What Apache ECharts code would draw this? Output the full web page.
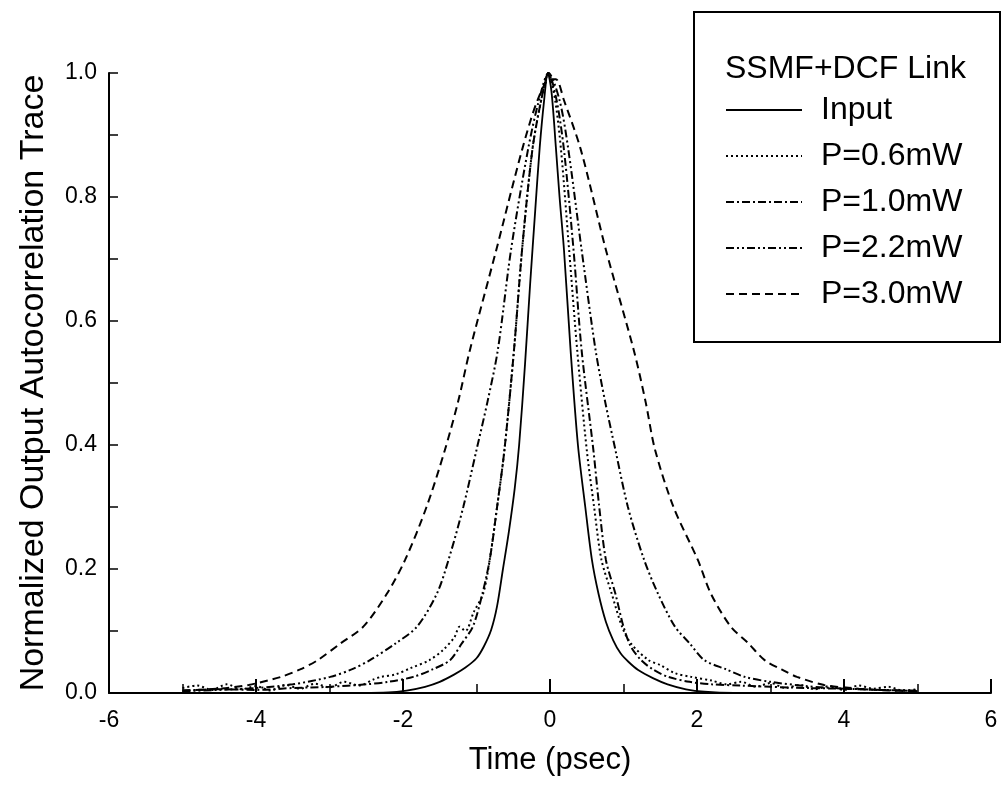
<!DOCTYPE html>
<html><head><meta charset="utf-8">
<script src="https://cdn.jsdelivr.net/npm/echarts@6/dist/echarts.min.js"></script>
<style>html,body{margin:0;padding:0;background:#fff}#c{width:1003px;height:785px}</style>
</head><body><div id="c"></div>
<script>
// ---- data (x in psec, y normalized) ----
const seriesNames = ['Input', 'P=0.6mW', 'P=1.0mW', 'P=2.2mW', 'P=3.0mW'];
const legendTitle = 'SSMF+DCF Link';
const xTitle = 'Time (psec)';
const yTitle = 'Normalized Output Autocorrelation Trace';

const inputTrace = [[-5,0],[-3,0],[-2.2,0.001],[-1.95,0.004],[-1.7,0.01],[-1.5,0.018],[-1.3,0.03],[-1.15,0.041],[-1.0,0.056],[-0.9,0.075],[-0.8,0.102],[-0.72,0.14],[-0.64,0.2],[-0.56,0.26],[-0.48,0.33],[-0.42,0.4],[-0.34,0.53],[-0.27,0.66],[-0.2,0.78],[-0.14,0.88],[-0.08,0.956],[-0.03,1.0],[0.02,0.97],[0.08,0.88],[0.13,0.8],[0.19,0.715],[0.28,0.553],[0.38,0.4],[0.48,0.3],[0.57,0.215],[0.66,0.16],[0.76,0.115],[0.86,0.085],[0.96,0.064],[1.07,0.05],[1.2,0.037],[1.4,0.024],[1.6,0.014],[1.85,0.006],[2.1,0.002],[2.5,0],[5,0]];

const p06Trace = [[-5.0,0.008],[-4.8,0.012],[-4.6,0.005],[-4.4,0.014],[-4.2,0.006],[-4.0,0.011],[-3.8,0.004],[-3.6,0.013],[-3.4,0.007],[-3.2,0.015],[-3.0,0.009],[-2.8,0.018],[-2.6,0.012],[-2.4,0.022],[-2.3,0.026],[-2.1,0.03],[-1.9,0.04],[-1.64,0.053],[-1.45,0.07],[-1.3,0.09],[-1.23,0.107],[-1.15,0.1],[-1.04,0.13],[-0.91,0.16],[-0.82,0.215],[-0.72,0.3],[-0.62,0.392],[-0.49,0.553],[-0.38,0.715],[-0.24,0.876],[-0.12,0.956],[-0.02,1.0],[0.07,0.956],[0.15,0.876],[0.26,0.715],[0.37,0.553],[0.5,0.392],[0.6,0.3],[0.7,0.215],[0.84,0.16],[0.98,0.107],[1.1,0.08],[1.34,0.053],[1.5,0.045],[1.7,0.032],[1.92,0.026],[2.2,0.02],[2.4,0.014],[2.6,0.018],[2.8,0.01],[3.0,0.016],[3.2,0.008],[3.4,0.013],[3.6,0.006],[3.8,0.011],[4.0,0.005],[4.2,0.012],[4.4,0.007],[4.6,0.01],[4.8,0.004],[5.0,0.006]];

const p10Trace = [[-5,0.004],[-4.5,0.006],[-4,0.005],[-3.5,0.008],[-3,0.01],[-2.5,0.014],[-2.2,0.018],[-1.86,0.026],[-1.6,0.038],[-1.36,0.053],[-1.2,0.08],[-1.05,0.107],[-0.92,0.16],[-0.82,0.215],[-0.72,0.3],[-0.62,0.392],[-0.49,0.553],[-0.38,0.715],[-0.24,0.876],[-0.12,0.956],[-0.02,1.0],[0.09,0.956],[0.19,0.876],[0.32,0.715],[0.43,0.553],[0.59,0.392],[0.67,0.3],[0.76,0.215],[0.89,0.16],[1.0,0.107],[1.1,0.075],[1.24,0.053],[1.4,0.038],[1.61,0.026],[1.9,0.018],[2.2,0.014],[2.6,0.012],[3,0.01],[3.5,0.008],[4,0.007],[4.5,0.005],[5,0.004]];

const p22Trace = [[-5,0.003],[-4.5,0.005],[-4,0.008],[-3.5,0.014],[-2.99,0.026],[-2.7,0.038],[-2.45,0.053],[-2.1,0.08],[-1.81,0.107],[-1.54,0.16],[-1.38,0.215],[-1.18,0.3],[-1.0,0.392],[-0.85,0.47],[-0.71,0.553],[-0.53,0.715],[-0.3,0.876],[-0.15,0.956],[-0.02,1.0],[0.13,0.956],[0.25,0.876],[0.43,0.715],[0.62,0.553],[0.75,0.47],[0.89,0.392],[1.06,0.3],[1.28,0.215],[1.47,0.16],[1.7,0.107],[1.9,0.08],[2.1,0.053],[2.4,0.038],[2.65,0.026],[3.0,0.018],[3.5,0.011],[4.0,0.007],[4.5,0.005],[5,0.003]];

const p30Trace = [[-5,0.004],[-4.5,0.007],[-4.1,0.013],[-3.66,0.026],[-3.4,0.038],[-3.16,0.053],[-2.85,0.08],[-2.54,0.107],[-2.22,0.16],[-1.97,0.215],[-1.68,0.3],[-1.43,0.392],[-1.25,0.47],[-1.09,0.553],[-0.73,0.715],[-0.38,0.876],[-0.17,0.956],[0.0,0.99],[0.08,0.99],[0.19,0.956],[0.42,0.876],[0.76,0.715],[1.14,0.553],[1.3,0.47],[1.43,0.392],[1.68,0.3],[2.01,0.215],[2.19,0.16],[2.46,0.107],[2.7,0.08],[2.92,0.053],[3.15,0.038],[3.36,0.026],[3.73,0.013],[4.2,0.007],[4.6,0.004],[5,0.003]];

const traces = [inputTrace, p06Trace, p10Trace, p22Trace, p30Trace];
const dashes = ['solid', [2, 3], [8, 3, 2, 3], [8, 3, 2, 3, 2, 3], [8, 5]];

const FONT = 'Liberation Sans';
const chart = echarts.init(document.getElementById('c'), null, {renderer: 'canvas'});
chart.setOption({
  animation: false,
  backgroundColor: '#fff',
  textStyle: {fontFamily: FONT, color: '#000'},
  grid: {left: 109, right: 12, top: 73, bottom: 92, containLabel: false},
  title: {
    text: legendTitle, left: 725, top: 53, padding: 0,
    textStyle: {fontFamily: FONT, fontSize: 32, fontWeight: 'normal', color: '#000'}
  },
  legend: {
    data: seriesNames, orient: 'vertical', left: 725, top: 94, padding: 0,
    itemWidth: 76, itemHeight: 14, itemGap: 14,
    itemStyle: {opacity: 0},
    textStyle: {fontFamily: FONT, fontSize: 32, lineHeight: 32, color: '#000', padding: [0, 0, 0, 14]}
  },
  graphic: [{
    type: 'rect', shape: {x: 694, y: 12, width: 306, height: 330},
    style: {fill: 'none', stroke: '#000', lineWidth: 2}, z: 10
  }],
  xAxis: {
    type: 'value', min: -6, max: 6, interval: 2,
    axisLine: {onZero: false, lineStyle: {color: '#000', width: 2}},
    axisTick: {inside: true, length: 14, lineStyle: {color: '#000', width: 2}},
    minorTick: {show: true, splitNumber: 2, length: 9, lineStyle: {color: '#000', width: 1.5}},
    splitLine: {show: false},
    axisLabel: {fontFamily: FONT, fontSize: 23, color: '#000', margin: 16},
    name: xTitle, nameLocation: 'middle', nameGap: 52,
    nameTextStyle: {fontFamily: FONT, fontSize: 31, color: '#000'}
  },
  yAxis: {
    type: 'value', min: 0, max: 1, interval: 0.2,
    axisLine: {show: true, onZero: false, lineStyle: {color: '#000', width: 2}},
    axisTick: {show: true, inside: true, length: 9, lineStyle: {color: '#000', width: 1.5}},
    minorTick: {show: true, splitNumber: 2, length: 9, lineStyle: {color: '#000', width: 1.5}},
    splitLine: {show: false},
    axisLabel: {fontFamily: FONT, fontSize: 23, color: '#000', margin: 12, formatter: v => v.toFixed(1)},
    name: yTitle, nameLocation: 'middle', nameGap: 58,
    nameTextStyle: {fontFamily: FONT, fontSize: 34, color: '#000'}
  },
  series: seriesNames.map((n, i) => ({
    name: n, type: 'line', data: traces[i], symbol: 'none', showSymbol: false,
    smooth: 0.3,
    lineStyle: {color: '#000', width: i === 0 ? 1.8 : 2, type: dashes[i]},
    itemStyle: {color: '#000'}
  }))
});
</script>
</body></html>
